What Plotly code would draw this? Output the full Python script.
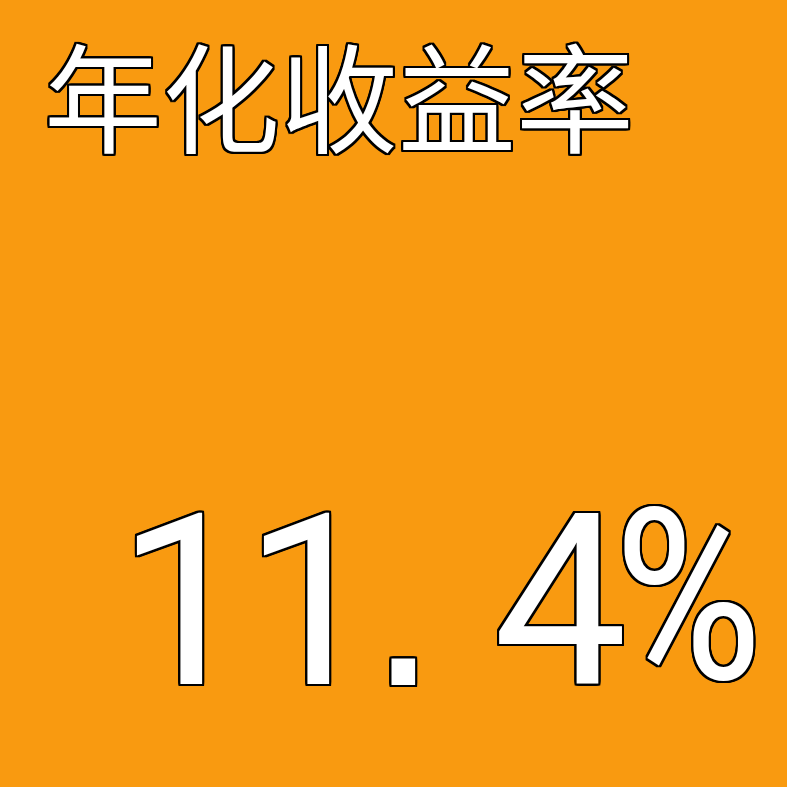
import plotly.graph_objects as go

# data
metric_label = ["年化收益率"]
metric_value = [11.4]
metric_suffix = ["%"]

W = H = 787
bg = "#F99A10"
outline = ", ".join(
    f"{dx}px {dy}px 0 #000"
    for dx, dy in [(-2, -2), (2, -2), (-2, 2), (2, 2), (0, 2), (2, 0), (0, -2), (-2, 0),
                   (-1, 2), (1, 2), (-1, -2), (1, -2), (2, 1), (2, -1), (-2, 1), (-2, -1)]
)

# the value is drawn one character per cell (half-width look of the original)
value_chars = list(f"{metric_value[0]:.1f}") + list(metric_suffix[0])
cell_x = [184, 311, 403, 560, 688]   # centres in px
digit_mid_y = 602


def px_x(v):
    return v / W


def px_y(v):
    return 1 - v / H


fig = go.Figure()

fig.add_annotation(
    text=metric_label[0], x=px_x(42), y=px_y(92),
    xref="paper", yref="paper", xanchor="left", yanchor="middle",
    showarrow=False,
    font=dict(family="Noto Sans CJK SC", size=118, color="white", shadow=outline),
)

for ch, cx in zip(value_chars, cell_x):
    if ch == metric_suffix[0]:
        fnt = dict(family="Roboto Condensed", size=240, color="white", shadow=outline)
        cy = 597
    elif ch == ".":
        fnt = dict(family="Liberation Sans", size=247, color="white", shadow=outline)
        cy = 599
    else:
        fnt = dict(family="Roboto", size=239, color="white", shadow=outline)
        cy = digit_mid_y
    fig.add_annotation(
        text=ch, x=px_x(cx), y=px_y(cy),
        xref="paper", yref="paper", xanchor="center", yanchor="middle",
        showarrow=False, font=fnt,
    )

fig.update_layout(
    width=W, height=H,
    margin=dict(l=0, r=0, t=0, b=0),
    paper_bgcolor=bg, plot_bgcolor=bg,
    xaxis=dict(visible=False), yaxis=dict(visible=False),
    showlegend=False,
)

fig.write_html("out.html", post_script="document.body.style.margin='0';",
               config={"displayModeBar": False})
